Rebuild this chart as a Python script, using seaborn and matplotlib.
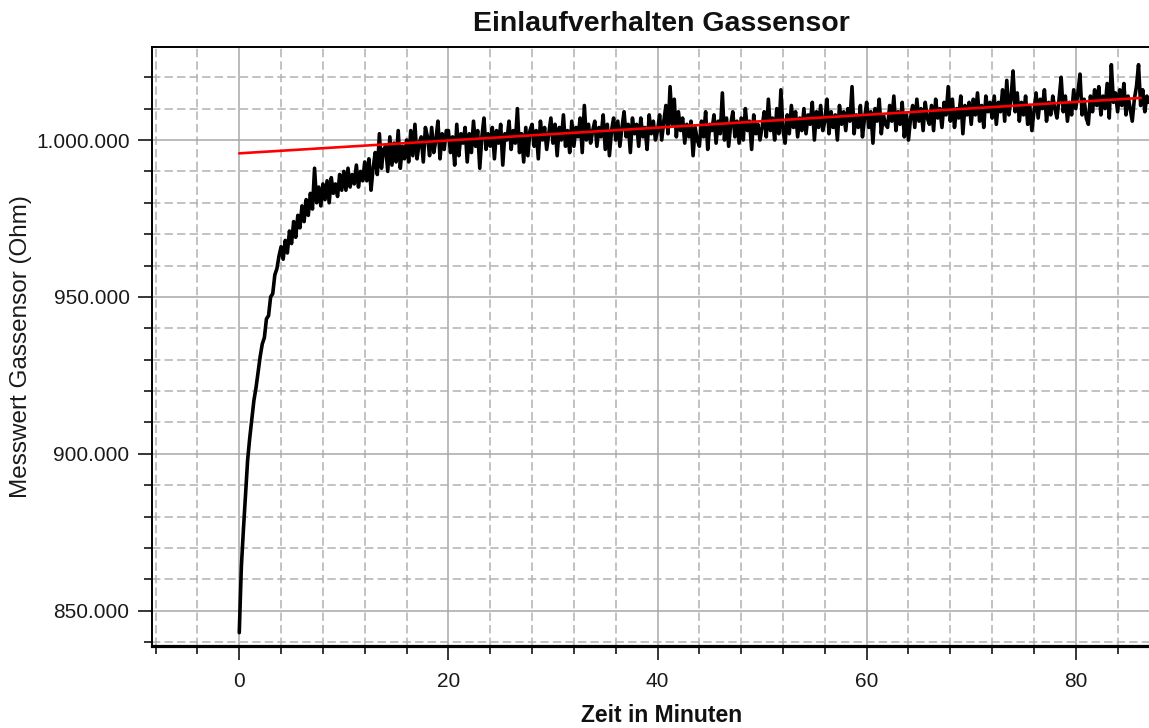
import numpy as np
import pandas as pd
import matplotlib
matplotlib.use("Agg")
import matplotlib.pyplot as plt
import seaborn as sns
from matplotlib.ticker import MultipleLocator, FuncFormatter

# ---------------- data ----------------
ABTAST_MIN = 0.2  # sampling interval of the series in minutes

# Messwert in kOhm, phase 1: 0 - 19.8 min
einlauf_kohm = [
    843, 864, 876, 887, 898, 905, 911, 917, 921, 926,
    931, 935, 937, 943, 944, 950, 951, 957, 959, 963,
    966, 962, 968, 964, 971, 967, 974, 969, 976, 972,
    979, 974, 981, 976, 983, 978, 991, 980, 985, 979,
    986, 981, 987, 980, 988, 983, 986, 982, 989, 984,
    990, 984, 991, 985, 989, 986, 992, 985, 990, 987,
    993, 987, 994, 984, 991, 996, 989, 1002, 991, 997,
    998, 990, 1001, 992, 999, 993, 1003, 991, 998, 994,
    1000, 993, 1003, 995, 1005, 994, 999, 1001, 993, 1004,
    1001, 995, 1004, 996, 1000, 1006, 994, 1002, 997, 1003,
]
# phase 2: 20 - 39.8 min
mittel_kohm = [
    1003, 996, 1001, 992, 1005, 995, 1002, 999, 1004, 993,
    1002, 996, 1006, 998, 1003, 991, 1001, 1007, 997, 1002,
    998, 1004, 994, 1003, 999, 1005, 992, 1002, 1000, 1006,
    997, 1003, 999, 1010, 996, 1002, 993, 1004, 995, 1003,
    1005, 998, 1003, 994, 1006, 1000, 1004, 997, 1002, 1007,
    999, 1005, 995, 1004, 1000, 1008, 998, 1003, 996, 1006,
    998, 1004, 1001, 1007, 996, 1011, 1000, 1005, 999, 1003,
    1006, 998, 1004, 1001, 1008, 997, 1005, 995, 1003, 1007,
    1000, 1006, 998, 1004, 1009, 1001, 1005, 996, 1007, 1002,
    1005, 998, 1007, 1001, 1004, 997, 1008, 1002, 1006, 1000,
]
# phase 3: 40 - 59.8 min
spaet_kohm = [
    1003, 1008, 1000, 1006, 1011, 1002, 1017, 1005, 1013, 1001,
    1009, 1003, 1007, 999, 1005, 1001, 1006, 995, 1004, 1000,
    998, 1006, 1001, 1009, 997, 1005, 1003, 1008, 999, 1006,
    1002, 1015, 1000, 1007, 998, 1005, 1009, 1001, 1006, 999,
    1007, 1000, 1010, 1003, 1006, 997, 1008, 1002, 1005, 1000,
    1004, 1009, 1001, 1013, 1003, 1007, 1000, 1010, 1002, 1016,
    1003, 999, 1008, 1002, 1011, 1004, 1009, 1001, 1007, 1003,
    1010, 1002, 1008, 1005, 1012, 1000, 1009, 1004, 1011, 1003,
    1006, 1013, 1002, 1009, 1004, 1008, 1000, 1011, 1005, 1009,
    1003, 1010, 1006, 1017, 1002, 1008, 1004, 1011, 1001, 1007,
]
# phase 4: 60 - 87 min
ende_kohm = [
    1012, 1004, 1009, 999, 1010, 1006, 1013, 1002, 1008, 1005,
    1004, 1011, 1006, 1014, 1003, 1009, 1005, 1012, 1001, 1008,
    1000, 1007, 1011, 1004, 1013, 1006, 1010, 1003, 1012, 1007,
    1005, 1011, 1003, 1013, 1007, 1010, 1004, 1012, 1008, 1017,
    1006, 1013, 1004, 1010, 1007, 1014, 1002, 1011, 1008, 1012,
    1005, 1013, 1008, 1015, 1006, 1011, 1004, 1014, 1009, 1012,
    1007, 1014, 1005, 1012, 1009, 1016, 1006, 1019, 1008, 1013,
    1022, 1009, 1015, 1006, 1012, 1008, 1014, 1005, 1011, 1003,
    1009, 1015, 1007, 1013, 1010, 1016, 1006, 1012, 1008, 1014,
    1010, 1007, 1013, 1020, 1009, 1014, 1006, 1012, 1008, 1016,
    1010, 1015, 1021, 1008, 1013, 1007, 1005, 1014, 1009, 1016,
    1011, 1017, 1008, 1014, 1010, 1018, 1007, 1024, 1012, 1015,
    1009, 1016, 1011, 1018, 1008, 1014, 1010, 1006, 1013, 1017,
    1024, 1011, 1016, 1009, 1014, 1012,
]

# linear trend (red line): endpoints
trend_zeit_min = [0.0, 86.2]
trend_kohm = [995.75, 1013.4]

title_text = "Einlaufverhalten Gassensor"
x_label = "Zeit in Minuten"
y_label = "Messwert Gassensor (Ohm)"

# ---------------- build frames ----------------
messwert_ohm = np.array(einlauf_kohm + mittel_kohm + spaet_kohm + ende_kohm, dtype=float) * 1000.0
zeit_min = np.arange(len(messwert_ohm)) * ABTAST_MIN
df = pd.DataFrame({"Zeit": zeit_min, "Messwert": messwert_ohm})
df_trend = pd.DataFrame({"Zeit": trend_zeit_min, "Messwert": np.array(trend_kohm) * 1000.0})

# ---------------- style ----------------
sns.set_style("white")
plt.rcParams["font.family"] = ["Liberation Sans", "DejaVu Sans"]

fig = plt.figure(figsize=(11.49, 7.28), dpi=100)
ax = fig.add_axes([0.1327, 0.11264, 0.8864, 0.8232])

sns.lineplot(data=df, x="Zeit", y="Messwert", ax=ax, color="black",
             lw=2.6, estimator=None, sort=False, zorder=3)
sns.lineplot(data=df_trend, x="Zeit", y="Messwert", ax=ax, color="#ff0000",
             lw=1.9, estimator=None, sort=False, zorder=4)

ax.set_xlim(-8.3, 89.1)
ax.set_ylim(838750, 1029730)

ax.xaxis.set_major_locator(MultipleLocator(20))
ax.xaxis.set_minor_locator(MultipleLocator(4))
ax.yaxis.set_major_locator(MultipleLocator(50000))
ax.yaxis.set_minor_locator(MultipleLocator(10000))
ax.yaxis.set_major_formatter(FuncFormatter(lambda v, p: f"{v:,.0f}".replace(",", ".")))

ax.set_axisbelow(True)
ax.grid(which="major", color="#a8a8a8", lw=1.1, ls="-")
ax.grid(which="minor", color="#b2b2b2", lw=1.1, ls=(0, (5.5, 2.7)))

ax.tick_params(which="both", bottom=True, left=True, top=False, right=False,
               direction="out", color="black", width=1.1)
ax.tick_params(which="major", length=10, labelsize=15, labelcolor="#1a1a1a")
ax.tick_params(axis="x", which="major", pad=8.5)
ax.tick_params(axis="y", which="major", pad=6.5)
ax.tick_params(which="minor", length=5.5)

for side in ["top", "left", "right"]:
    ax.spines[side].set_color("black")
    ax.spines[side].set_linewidth(1.4)
ax.spines["bottom"].set_color("black")
ax.spines["bottom"].set_linewidth(2.3)

ax.set_title(title_text, fontsize=20.5, fontweight="bold", pad=11.5, color="#111111")
ax.set_xlabel(x_label, fontsize=16.5, fontweight="bold", color="#111111")
ax.set_ylabel(y_label, fontsize=17.5, color="#1a1a1a")
ax.xaxis.set_label_coords(0.5, -0.0975)
ax.yaxis.set_label_coords(-0.1178, 0.5)

fig.savefig("out.png", dpi=100)
